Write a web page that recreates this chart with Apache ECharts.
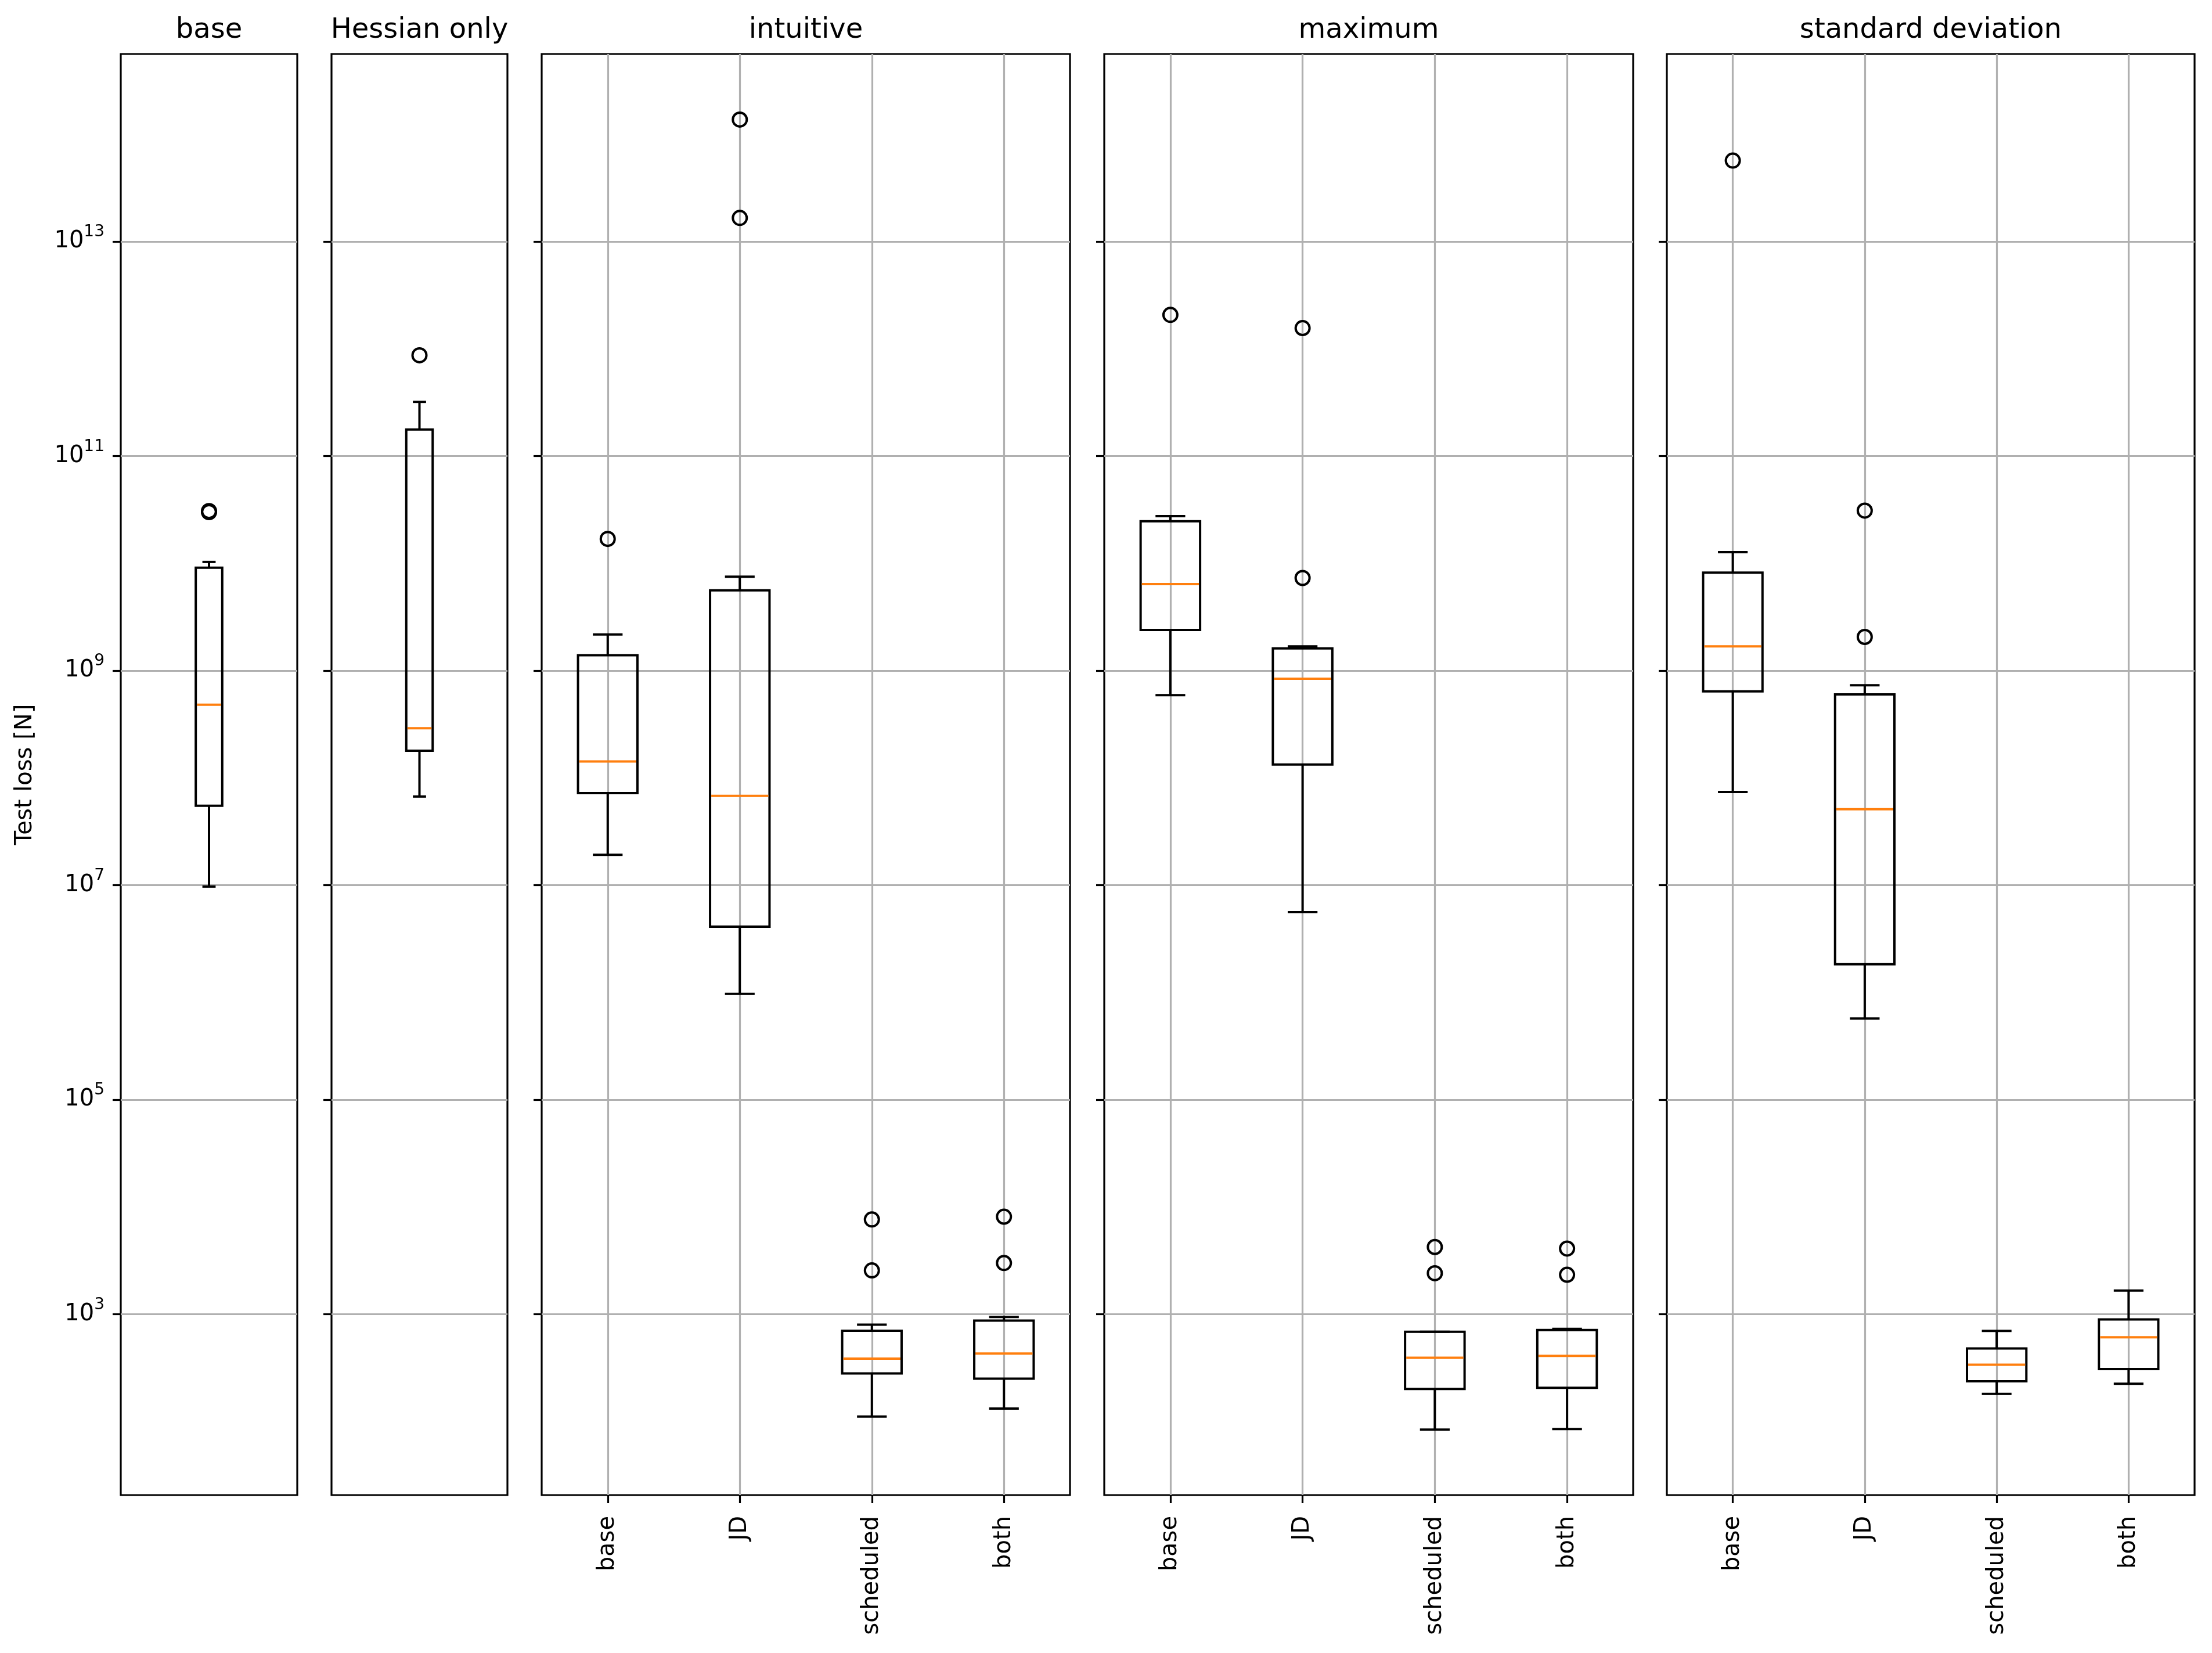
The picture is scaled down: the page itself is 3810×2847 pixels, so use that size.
<!DOCTYPE html>
<html>
<head>
<meta charset="utf-8">
<script src="https://cdn.jsdelivr.net/npm/echarts@6/dist/echarts.min.js"></script>
<style>
    html, body { margin: 0; padding: 0; background: #fff; }
    #chart { width: 3810px; height: 2847px; }
</style>
</head>
<body>
<div id="chart"></div>
<script>
// panel titles and box labels
const panelTitles = ['base', 'Hessian only', 'intuitive', 'maximum', 'standard deviation'];
const methodLabels = ['base', 'JD', 'scheduled', 'both'];
const yTickValues = [1e3, 1e5, 1e7, 1e9, 1e11, 1e13];
const yMin = 20.6;
const yMax = 5.6e14;

// box stats per panel: [lower whisker, Q1, median, Q3, upper whisker]
const baseStats = [[9.7e6, 5.5e7, 4.8e8, 9.1e9, 1.03e10]];
const hessianStats = [[6.7e7, 1.79e8, 2.9e8, 1.77e11, 3.2e11]];
const intuitiveStats = [
    [1.92e7, 7.2e7, 1.42e8, 1.39e9, 2.17e9],
    [9.7e5, 4.1e6, 6.8e7, 5.6e9, 7.5e9],
    [111, 280, 385, 702, 798],
    [132, 251, 430, 873, 942]
];
const maximumStats = [
    [5.9e8, 2.39e9, 6.4e9, 2.47e10, 2.75e10],
    [5.6e6, 1.33e8, 8.4e8, 1.61e9, 1.68e9],
    [84, 201, 393, 686, 686],
    [85, 206, 409, 713, 729]
];
const stdStats = [
    [7.4e7, 6.4e8, 1.68e9, 8.2e9, 1.27e10],
    [5.7e5, 1.83e6, 5.1e7, 6.0e8, 7.3e8],
    [181, 237, 338, 480, 698],
    [225, 308, 610, 895, 1660]
];

// outliers per box
const baseFliers = [[3.0e10, 3.07e10]];
const hessianFliers = [[8.7e11]];
const intuitiveFliers = [[1.69e10], [1.37e14, 1.66e13], [7640, 2560], [8110, 3000]];
const maximumFliers = [[2.07e12], [1.56e12, 7.3e9], [4230, 2410], [4090, 2330]];
const stdFliers = [[5.68e13], [3.1e10, 2.06e9], [], []];

const panelStats = [baseStats, hessianStats, intuitiveStats, maximumStats, stdStats];
const panelFliers = [baseFliers, hessianFliers, intuitiveFliers, maximumFliers, stdFliers];

const FONT = 'DejaVu Sans';
const panelLeft = [208, 571, 933, 1902, 2871];
const panelWidth = [304, 303, 910, 911, 909];
const panelTop = 93;
const panelHeight = 2482;
const lineW = 3.2;
const tickStyle = { color: '#000', width: lineW };
const gridStyle = { color: '#b0b0b0', width: lineW };

function boxRenderer(boxWidth) {
    return function (params, api) {
        const x = api.value(0);
        const low = api.coord([x, api.value(1)]);
        const q1 = api.coord([x, api.value(2)]);
        const med = api.coord([x, api.value(3)]);
        const q3 = api.coord([x, api.value(4)]);
        const high = api.coord([x, api.value(5)]);
        const left = api.coord([x - boxWidth / 2, api.value(3)])[0];
        const right = api.coord([x + boxWidth / 2, api.value(3)])[0];
        const capL = api.coord([x - boxWidth / 4, api.value(3)])[0];
        const capR = api.coord([x + boxWidth / 4, api.value(3)])[0];
        const cx = med[0];
        const black = { stroke: '#000', lineWidth: 4, fill: null };
        return {
            type: 'group',
            children: [
                { type: 'line', shape: { x1: cx, y1: low[1], x2: cx, y2: q1[1] }, style: black },
                { type: 'line', shape: { x1: cx, y1: q3[1], x2: cx, y2: high[1] }, style: black },
                { type: 'line', shape: { x1: capL, y1: low[1], x2: capR, y2: low[1] }, style: black },
                { type: 'line', shape: { x1: capL, y1: high[1], x2: capR, y2: high[1] }, style: black },
                { type: 'rect', shape: { x: left, y: q3[1], width: right - left, height: q1[1] - q3[1] }, style: black },
                { type: 'line', shape: { x1: left + 2, y1: med[1], x2: right - 2, y2: med[1] }, style: { stroke: '#ff7f0e', lineWidth: 4 } }
            ]
        };
    };
}

const grids = [], xAxes = [], yAxes = [], series = [], titles = [];

panelStats.forEach(function (stats, i) {
    const n = stats.length;
    const multi = n > 1;
    const positions = stats.map(function (s, k) { return k + 1; });
    grids.push({
        left: panelLeft[i], top: panelTop, width: panelWidth[i], height: panelHeight,
        show: true, borderColor: '#000', borderWidth: lineW, backgroundColor: 'transparent'
    });
    titles.push({
        text: panelTitles[i],
        left: panelLeft[i] + panelWidth[i] / 2,
        top: 29,
        textAlign: 'center',
        padding: 0,
        textStyle: { fontFamily: FONT, fontSize: 48, fontWeight: 'normal', color: '#000' }
    });
    xAxes.push({
        gridIndex: i, type: 'value', min: 0.5, max: n + 0.5,
        axisLine: { show: false },
        axisTick: { show: multi, customValues: positions, length: 14, lineStyle: tickStyle },
        axisLabel: {
            show: multi, customValues: positions, rotate: 90, margin: 36,
            fontFamily: FONT, fontSize: 40, color: '#000',
            formatter: function (v) { return methodLabels[Math.round(v) - 1]; }
        },
        splitLine: { show: multi, lineStyle: gridStyle }
    });
    yAxes.push({
        gridIndex: i, type: 'log', logBase: 10, min: yMin, max: yMax,
        axisLine: { show: false },
        axisTick: { show: true, customValues: yTickValues, length: 14, lineStyle: tickStyle },
        axisLabel: {
            show: i === 0, customValues: yTickValues, margin: 28, color: '#000',
            formatter: function (v) {
                return '{b|10}{s|' + Math.round(Math.log10(v)) + '}';
            },
            rich: {
                b: { fontFamily: FONT, fontSize: 40, color: '#000' },
                s: { fontFamily: FONT, fontSize: 28, color: '#000', padding: [0, 0, 32, 0] }
            }
        },
        splitLine: { show: true, lineStyle: gridStyle },
        name: i === 0 ? 'Test loss [N]' : '',
        nameLocation: 'middle', nameRotate: 90, nameGap: 144,
        nameTextStyle: { fontFamily: FONT, fontSize: 40, color: '#000' }
    });
    series.push({
        type: 'custom',
        xAxisIndex: i, yAxisIndex: i,
        renderItem: boxRenderer(multi ? 0.45 : 0.15),
        encode: { x: 0, y: [1, 2, 3, 4, 5] },
        data: stats.map(function (s, k) { return [k + 1].concat(s); }),
        z: 3
    });
    const fl = [];
    panelFliers[i].forEach(function (vals, k) {
        vals.forEach(function (v) { fl.push([k + 1, v]); });
    });
    series.push({
        type: 'scatter',
        xAxisIndex: i, yAxisIndex: i,
        symbol: 'circle', symbolSize: 24,
        itemStyle: { color: 'rgba(0,0,0,0)', borderColor: '#000', borderWidth: 4, opacity: 1 },
        data: fl,
        z: 4
    });
});

const chart = echarts.init(document.getElementById('chart'), null, { renderer: 'canvas' });
chart.setOption({
    backgroundColor: '#fff',
    animation: false,
    title: titles,
    grid: grids,
    xAxis: xAxes,
    yAxis: yAxes,
    series: series
});
</script>
</body>
</html>
